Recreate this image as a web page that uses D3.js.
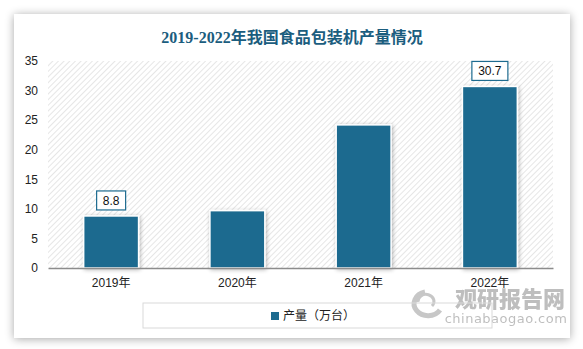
<!DOCTYPE html>
<html><head><meta charset="utf-8">
<script src="https://cdn.jsdelivr.net/npm/d3@7/dist/d3.min.js"></script>
<style>html,body{margin:0;padding:0;background:#fff;}svg{display:block;}</style>
</head><body>
<script>
const title = "2019-2022年我国食品包装机产量情况";
const categories = ["2019年", "2020年", "2021年", "2022年"];
const values = [8.8, 9.7, 24.2, 30.7];
const showLabel = [true, false, false, true];
const yTicks = [0, 5, 10, 15, 20, 25, 30, 35];
const seriesName = "产量（万台）";

const W = 583, H = 349;
const svg = d3.select("body").append("svg").attr("width", W).attr("height", H);
const defs = svg.append("defs");

const sh = defs.append("filter").attr("id", "cardShadow").attr("x", "-10%").attr("y", "-10%").attr("width", "120%").attr("height", "120%");
sh.append("feGaussianBlur").attr("in", "SourceAlpha").attr("stdDeviation", 5);
sh.append("feOffset").attr("dx", 0).attr("dy", 1).attr("result", "b");
sh.append("feComponentTransfer").append("feFuncA").attr("type", "linear").attr("slope", 0.35);
const m1 = sh.append("feMerge"); m1.append("feMergeNode"); m1.append("feMergeNode").attr("in", "SourceGraphic");

const bs = defs.append("filter").attr("id", "barShadow").attr("x", "-20%").attr("y", "-20%").attr("width", "140%").attr("height", "140%");
bs.append("feGaussianBlur").attr("in", "SourceAlpha").attr("stdDeviation", 2);
bs.append("feOffset").attr("dx", 1).attr("dy", 1);
bs.append("feComponentTransfer").append("feFuncA").attr("type", "linear").attr("slope", 0.3);
const m2 = bs.append("feMerge"); m2.append("feMergeNode"); m2.append("feMergeNode").attr("in", "SourceGraphic");

const pat = defs.append("pattern").attr("id", "hatch").attr("patternUnits", "userSpaceOnUse")
  .attr("width", 4).attr("height", 4).attr("patternTransform", "rotate(45)");
pat.append("rect").attr("width", 4).attr("height", 4).attr("fill", "#fff");
pat.append("line").attr("x1", 0).attr("y1", 0).attr("x2", 0).attr("y2", 4).attr("stroke", "#d6d6d6").attr("stroke-width", 1.2);

// card
svg.append("rect").attr("x", 14).attr("y", 14).attr("width", 556).attr("height", 324)
  .attr("fill", "#fff").attr("filter", "url(#cardShadow)");

svg.append("text").attr("x", 292).attr("y", 43).attr("text-anchor", "middle")
  .attr("font-family", "'Liberation Serif','Noto Sans CJK SC',serif").attr("font-weight", "bold")
  .attr("font-size", 16).attr("fill", "#1b5d7e").text(title);

const x0 = 48, x1 = 553, yTop = 61, yBot = 268;
const x = d3.scaleBand().domain(categories).range([x0, x1]).paddingInner(0.565).paddingOuter(0.2825);
const y = d3.scaleLinear().domain([0, 35]).range([yBot, yTop]);

svg.append("rect").attr("x", x0).attr("y", yTop).attr("width", x1 - x0).attr("height", yBot - yTop).attr("fill", "url(#hatch)");

const yAxis = svg.append("g").attr("transform", `translate(${x0},0)`)
  .call(d3.axisLeft(y).tickValues(yTicks).tickSize(0).tickPadding(10));
yAxis.select(".domain").remove();
yAxis.selectAll("text").attr("font-family", "'Liberation Sans',Arial,sans-serif").attr("font-size", 12).attr("fill", "#222");

svg.selectAll(".bar").data(values).enter().append("rect")
  .attr("x", (d, i) => x(categories[i])).attr("y", d => y(d))
  .attr("width", x.bandwidth()).attr("height", d => yBot - y(d))
  .attr("fill", "#1d6b8f").attr("stroke", "#fff").attr("stroke-width", 1.5)
  .attr("filter", "url(#barShadow)");

const xAxis = svg.append("g").attr("transform", `translate(0,${yBot})`)
  .call(d3.axisBottom(x).tickSize(0).tickPadding(10));
xAxis.select(".domain").attr("stroke", "#8c8c8c").attr("stroke-width", 1.5);
xAxis.selectAll("text").attr("font-family", "'Liberation Sans','Noto Sans CJK SC',sans-serif").attr("font-size", 12).attr("fill", "#222");

values.forEach((v, i) => {
  if (!showLabel[i]) return;
  const cx = x(categories[i]) + x.bandwidth() / 2;
  const txt = String(v);
  const w = txt.length * 7 + 8;
  const by = y(v) - 6;
  svg.append("rect").attr("x", cx - w / 2).attr("y", by - 19).attr("width", w).attr("height", 19)
    .attr("fill", "#fff").attr("stroke", "#1d6b8f").attr("stroke-width", 1.2);
  svg.append("text").attr("x", cx).attr("y", by - 5).attr("text-anchor", "middle")
    .attr("font-family", "'Liberation Sans',Arial,sans-serif").attr("font-size", 12).attr("fill", "#111").text(txt);
});

// watermark
const wm = svg.append("g").attr("opacity", 0.55);
wm.append("path").attr("d", "M425,292 A14,12 0 1,0 440,310").attr("fill", "none").attr("stroke", "#9a9a9a").attr("stroke-width", 5);
wm.append("path").attr("d", "M418,302 A8,7 0 1,1 432,306").attr("fill", "none").attr("stroke", "#9a9a9a").attr("stroke-width", 3);
wm.append("text").attr("x", 510).attr("y", 307).attr("text-anchor", "middle")
  .attr("font-family", "'Noto Sans CJK SC',sans-serif").attr("font-weight", "900").attr("font-size", 22).attr("fill", "#8a8a8a").text("观研报告网");
wm.append("text").attr("x", 506).attr("y", 323).attr("text-anchor", "middle")
  .attr("font-family", "'DejaVu Sans',sans-serif").attr("font-size", 13).attr("letter-spacing", 0.5).attr("fill", "#8a8a8a").text("chinabaogao.com");

// legend
svg.append("rect").attr("x", 143).attr("y", 303).attr("width", 349).attr("height", 25)
  .attr("fill", "none").attr("stroke", "#d9d9d9").attr("stroke-width", 1);
svg.append("rect").attr("x", 271).attr("y", 312).attr("width", 8).attr("height", 8).attr("fill", "#1d6b8f");
svg.append("text").attr("x", 283).attr("y", 320).attr("font-family", "'Noto Sans CJK SC',sans-serif")
  .attr("font-size", 12).attr("fill", "#222").text(seriesName);
</script>
</body></html>
